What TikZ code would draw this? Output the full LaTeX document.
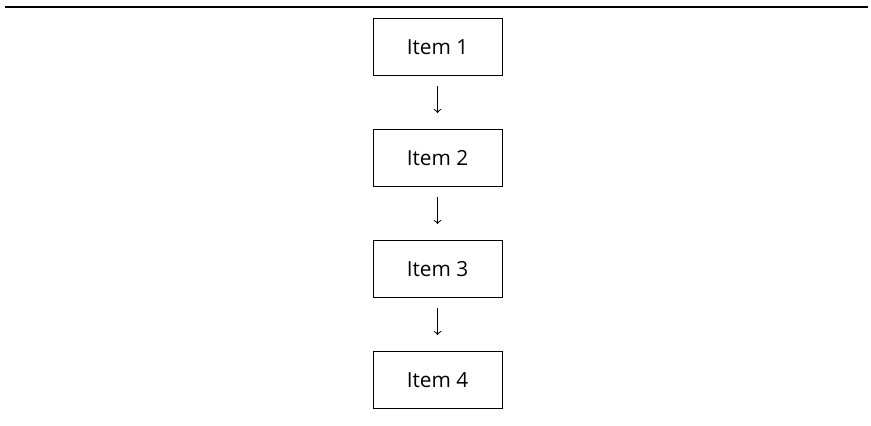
\documentclass[tikz,border=0pt]{standalone}
\usepackage{fontspec}
\setmainfont{Open Sans}
\usetikzlibrary{positioning}
\tikzset{
  item/.style={draw, line width=0.5pt, minimum width=64.5pt, minimum height=28.5pt, font=\fontsize{10.4}{12}\selectfont},
  link/.style={->, >=to, line width=0.5pt, shorten <=5pt, shorten >=8pt}
}
\begin{document}
\begin{tikzpicture}[x=1pt,y=1pt]
      \useasboundingbox (0,0) rectangle (435.5,212.5);
      \draw[line width=0.8pt] (2.5,209) -- (434,209);
      \node[item] (i1) at (218.75,189) {Item 1};
      \node[item, below=26.5pt of i1] (i2) {Item 2};
      \node[item, below=26.5pt of i2] (i3) {Item 3};
      \node[item, below=26.5pt of i3] (i4) {Item 4};
      \begin{scope}[link]
        \draw (i1) to (i2);
        \draw (i2) to (i3);
        \draw (i3) to (i4);
      \end{scope}
    \end{tikzpicture}
\end{document}
